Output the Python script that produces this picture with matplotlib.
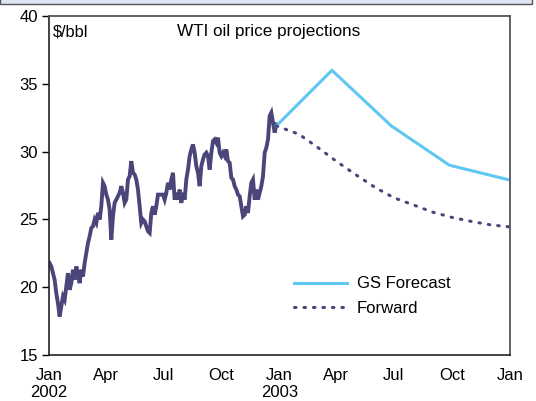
import pandas as pd
import matplotlib
matplotlib.use('Agg')
import matplotlib.pyplot as plt
from matplotlib.patches import Rectangle

plt.rcParams['font.family'] = ['Liberation Sans', 'DejaVu Sans']

# WTI spot 2002 (roughly every 2-3 trading days)
wti_2002 = [
    21.78, 21.53, 21.04, 20.55, 19.56, 18.82, 17.84, 18.58, 19.32, 19.07,
    20.05, 21.04, 19.81, 20.30, 21.29, 20.55, 21.53, 21.04, 20.30, 21.29,
    20.79, 21.78, 22.52, 23.26, 23.75, 24.37, 24.49, 24.99, 24.74, 25.48,
    24.99, 25.97, 27.70, 27.45, 26.83, 26.46, 25.73, 23.51, 25.23, 26.22,
    26.46, 26.71, 26.96, 27.45, 26.96, 26.22, 26.46, 27.94, 28.19, 29.30,
    28.44, 28.31, 27.94, 27.20, 25.97, 24.74, 24.99, 24.86, 24.49, 24.12,
    24.00, 25.48, 25.97, 25.35, 25.97, 26.83, 26.83, 26.83, 26.83, 26.46,
    26.96, 27.70, 27.20, 27.94, 28.44, 26.46, 26.96, 26.46, 27.20, 26.22,
    26.96, 26.46, 27.94, 28.68, 29.67, 30.16, 30.53, 29.92, 28.93, 28.44,
    27.45, 28.93, 29.42, 29.79, 29.92, 29.67, 28.68, 29.92, 30.78, 30.90,
    30.66, 31.03, 29.92, 29.67, 29.92, 29.67, 30.16, 29.30, 29.18, 28.07,
    27.94, 27.45, 27.20, 26.83, 26.71, 25.97, 25.23, 25.35, 25.97, 25.48,
    26.71, 27.70, 27.94, 26.46, 27.20, 26.46, 26.96, 27.45, 28.19, 29.92,
    30.29, 30.90, 32.63, 32.88, 32.14, 31.40, 32.01,
]
wti_dates = pd.date_range('2002-01-02', '2002-12-27', periods=len(wti_2002))

# GS forecast
gs_dates = pd.to_datetime(['2002-12-27', '2003-03-25', '2003-06-27',
                           '2003-09-27', '2004-01-01'])
gs_values = [31.9, 36.0, 31.9, 29.0, 27.9]

# Forward curve
fwd_dates = pd.to_datetime(['2002-12-27', '2003-02-01', '2003-03-01', '2003-04-01',
                            '2003-05-01', '2003-06-01', '2003-07-01', '2003-08-01',
                            '2003-09-01', '2003-10-01', '2003-11-01', '2003-12-01',
                            '2004-01-01'])
fwd_values = [31.9, 31.28, 30.36, 29.29, 28.32, 27.37, 26.6, 26.07,
              25.53, 25.15, 24.85, 24.6, 24.45]

tick_dates = pd.to_datetime(['2002-01-01', '2002-04-01', '2002-07-01', '2002-10-01',
                             '2003-01-01', '2003-04-01', '2003-07-01', '2003-10-01',
                             '2004-01-01'])
tick_labels = ['Jan\n2002', 'Apr', 'Jul', 'Oct', 'Jan\n2003', 'Apr', 'Jul', 'Oct', 'Jan']

navy = '#4b4679'
light_blue = '#5ec8f2'

fig = plt.figure(figsize=(5.36, 4.01), dpi=100)
ax = fig.add_axes([0.0914, 0.1147, 0.8601, 0.8453])

# strip at the top of the picture
fig.patches.append(Rectangle((0.0, 0.99), 0.993, 0.02, transform=fig.transFigure,
                             facecolor='#dfe5f2', edgecolor='#555555', lw=1.0))

ax.plot(wti_dates, wti_2002, color=navy, lw=2.8, solid_joinstyle='miter')
ax.plot(gs_dates, gs_values, color=light_blue, lw=2.2, label='GS Forecast')
ax.plot(fwd_dates, fwd_values, color=navy, lw=2.2, linestyle=(0, (0.5, 2.6)),
        dash_capstyle='round', label='Forward')

ax.set_xlim(pd.Timestamp('2002-01-01'), pd.Timestamp('2004-01-01'))
ax.set_ylim(15, 40)
ax.set_yticks([15, 20, 25, 30, 35, 40])
ax.set_xticks(tick_dates)
ax.set_xticklabels(tick_labels)

ax.tick_params(axis='y', direction='out', length=5, width=1, pad=3, labelsize=12)
ax.tick_params(axis='x', length=0, pad=9, labelsize=12)

for side in ['left', 'bottom']:
    ax.spines[side].set_color('#222222')
    ax.spines[side].set_linewidth(1.2)
for side in ['top', 'right']:
    ax.spines[side].set_color('#555555')
    ax.spines[side].set_linewidth(1.3)

ax.text(0.477, 0.955, 'WTI oil price projections', transform=ax.transAxes,
        ha='center', va='center', fontsize=12.3)
ax.text(0.009, 0.953, '$/bbl', transform=ax.transAxes, ha='left', va='center',
        fontsize=11.8)

ax.legend(loc='upper left', bbox_to_anchor=(0.531, 0.232), frameon=False,
          fontsize=12, handlelength=3.2, handletextpad=0.6, labelspacing=0.55,
          borderpad=0, borderaxespad=0)

fig.savefig('out.png', dpi=100)
